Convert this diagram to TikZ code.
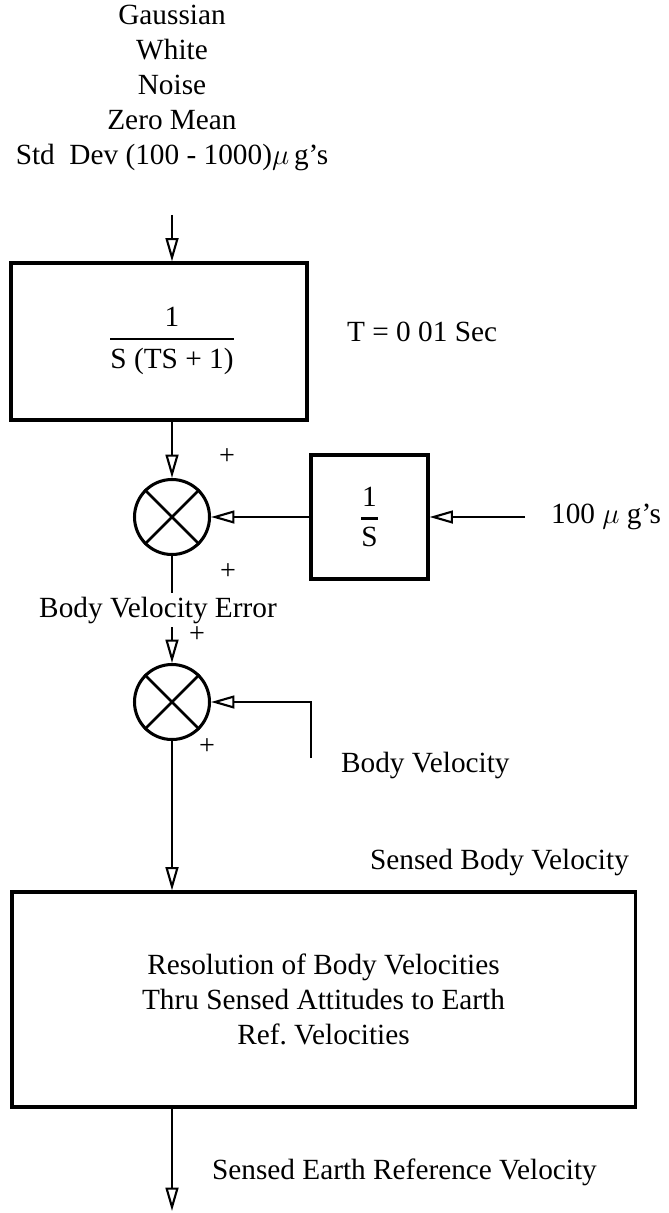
\documentclass[tikz,border=0pt]{standalone}
\usepackage{amsmath}
\usepackage{fontspec}
\setmainfont{Liberation Serif}
\usetikzlibrary{arrows.meta}
\newcommand{\blockfrac}[2]{$\genfrac{}{}{2.2pt}{0}{\text{#1}}{\text{#2}}$}
\begin{document}
\begin{tikzpicture}[x=0.03cm,y=-0.03cm,every node/.style={font=\fontsize{25}{29.9}\selectfont},
  block/.style={draw,line width=2.6pt,inner sep=0pt},
  sum/.style={draw,circle,line width=2.6pt,minimum size=2.25cm,inner sep=0pt},
  sign/.style={font=\fontsize{24}{28}\selectfont,inner sep=0pt},
  sig/.style={line width=2.4pt},
  >={Triangle[open,width=11pt,length=20pt,line width=1.8pt]}]
\useasboundingbox (0,0) rectangle (668,1213);
% noise source and first lag
\node[align=center] (noise) at (172,88) {Gaussian\\White\\Noise\\Zero Mean\\Std\ \ Dev (100 - 1000)$\mu$\,g's};
\coordinate (nin) at (172,215);
\node[block,minimum width=8.88cm,minimum height=4.71cm] (filt) at (159,341.5) {};
\node (tf) at (172,341) {\blockfrac{1}{S (TS + 1)}};
\node[anchor=west] (tconst) at (343,332) {T = 0 01 Sec};
% bias branch
\node[sum] (sum1) at (172,517) {};
\draw[sig] (sum1.45)--(sum1.225) (sum1.135)--(sum1.315);
\node[block,minimum width=3.51cm,minimum height=3.72cm] (integ) at (369.5,517) {\blockfrac{1}{S}};
\coordinate (bin) at (525,517);
\node[anchor=west] (bias) at (547,517) {100 $\mu$ g's};
\node[sign] (p1) at (227,457) {+}; \node[sign] (p2) at (228,572) {+};
\node (bve) at (158,610) {Body Velocity Error};
% body velocity added
\node[sum] (sum2) at (172,702) {};
\draw[sig] (sum2.45)--(sum2.225) (sum2.135)--(sum2.315);
\coordinate (bvin) at (311,758);
\node[anchor=west] (bodyvel) at (337,765) {Body Velocity};
\node[sign] (p3) at (197,635) {+}; \node[sign] (p4) at (207,747) {+};
% resolution to earth frame
\node[anchor=east] (sbv) at (633,862) {Sensed Body Velocity};
\node[block,minimum width=18.69cm,minimum height=6.45cm,align=center] (resolve) at (323.5,999.5) {Resolution of Body Velocities\\Thru Sensed Attitudes to Earth\\Ref.\ Velocities};
\coordinate (sout) at (172,1211);
\node[anchor=west] (sev) at (208,1172) {Sensed Earth Reference Velocity};
\draw[sig,->] (nin)--(filt.north -| nin);
\draw[sig,->] (filt.south -| sum1)--(sum1.north);
\draw[sig,->] (bin)--(integ.east);
\draw[sig,->] (integ.west)--(sum1.east);
\draw[sig] (sum1.south)--(bve.north -| sum1);
\draw[sig,->] (bve.south -| sum2)--(sum2.north);
\draw[sig,->] (bvin)|-(sum2.east);
\draw[sig,->] (sum2.south)--(resolve.north -| sum2);
\draw[sig,->] (resolve.south -| sout)--(sout);
\end{tikzpicture}
\end{document}
